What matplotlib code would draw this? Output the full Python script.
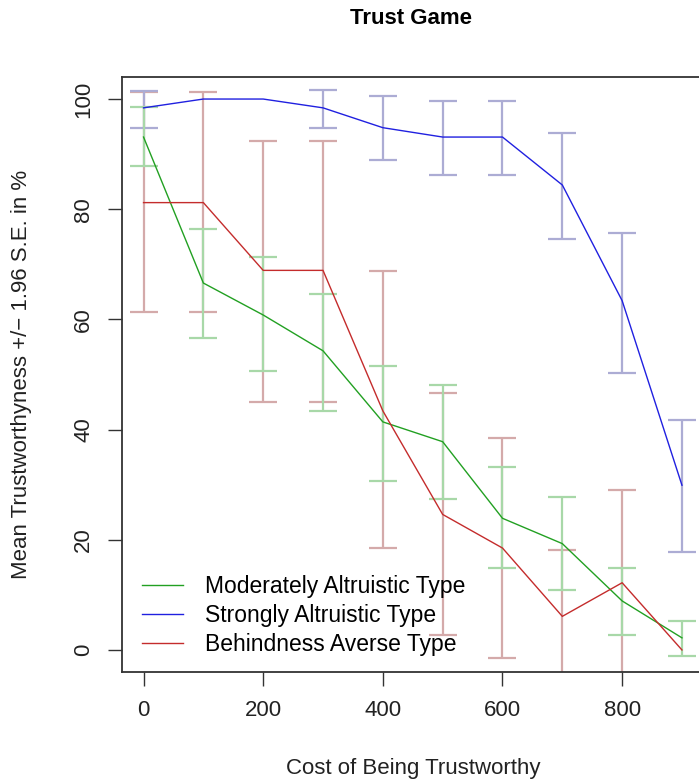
#!/usr/bin/env python3
"""Trust Game: mean trustworthiness by cost, with 1.96 S.E. bars"""

import numpy as np
import matplotlib
matplotlib.use('Agg')
import matplotlib.pyplot as plt

# cost levels
cost = [0, 100, 200, 300, 400, 500, 600, 700, 800, 900]

# Moderately Altruistic Type
mod_mean = [93.1, 66.6, 60.8, 54.3, 41.4, 37.8, 23.9, 19.3, 8.9, 2.2]
mod_lo = [87.9, 56.7, 50.6, 43.4, 30.7, 27.4, 14.9, 10.8, 2.7, -1.1]
mod_hi = [98.6, 76.5, 71.3, 64.6, 51.6, 48.1, 33.2, 27.7, 14.9, 5.2]

# Strongly Altruistic Type (no bar where S.E. is zero)
str_mean = [98.4, 100.0, 100.0, 98.4, 94.8, 93.1, 93.1, 84.4, 63.4, 29.9]
str_lo = [94.8, np.nan, np.nan, 94.8, 89.0, 86.2, 86.2, 74.6, 50.2, 17.7]
str_hi = [101.5, np.nan, np.nan, 101.7, 100.6, 99.7, 99.7, 93.9, 75.7, 41.7]

# Behindness Averse Type
beh_mean = [81.2, 81.2, 68.9, 68.9, 43.4, 24.6, 18.5, 6.1, 12.2, 0.0]
beh_lo = [61.3, 61.3, 45.0, 45.0, 18.5, 2.7, -1.4, -6.0, -4.6, np.nan]
beh_hi = [101.2, 101.2, 92.3, 92.3, 68.8, 46.7, 38.4, 18.2, 29.0, np.nan]

labels = ['Moderately Altruistic Type', 'Strongly Altruistic Type', 'Behindness Averse Type']

plt.rcParams['font.family'] = ['Liberation Sans', 'DejaVu Sans']

W, H = 699, 782
fig = plt.figure(figsize=(W / 100, H / 100), dpi=100)
ax = fig.add_axes([122 / W, (H - 672) / H, (703.5 - 122) / W, (672 - 77) / H])

series = [
    (mod_mean, mod_lo, mod_hi, '#22a022', '#a8d8a8'),
    (str_mean, str_lo, str_hi, '#2020e0', '#acacd4'),
    (beh_mean, beh_lo, beh_hi, '#c42c2c', '#d4aaaa'),
]

x = np.array(cost, dtype=float)
# error bars first (pale), lines on top
for mean, lo, hi, lc, ec in series[::-1]:
    m = np.array(mean, dtype=float)
    lo = np.array(lo, dtype=float)
    hi = np.array(hi, dtype=float)
    ok = ~np.isnan(lo)
    ax.errorbar(x[ok], m[ok], yerr=[m[ok] - lo[ok], hi[ok] - m[ok]],
                fmt='none', ecolor=ec, elinewidth=1.6, capsize=10, capthick=1.6)

handles = []
for (mean, lo, hi, lc, ec), lab in zip(series, labels):
    h, = ax.plot(x, mean, color=lc, linewidth=1.0, label=lab)
    handles.append(h)

ax.set_xlim(-36, 936)
ax.set_ylim(-4, 104)
ax.set_xticks([0, 200, 400, 600, 800])
ax.set_yticks([0, 20, 40, 60, 80, 100])
ax.tick_params(axis='both', direction='out', length=10, width=1.0, color='#333333',
               labelsize=16, labelcolor='#222222')
ax.tick_params(axis='x', pad=10)
ax.tick_params(axis='y', pad=10)
for lab in ax.get_yticklabels():
    lab.set_rotation(90)
    lab.set_va('center')
for sp in ax.spines.values():
    sp.set_color('#333333')
    sp.set_linewidth(1.3)

ax.set_xlabel('Cost of Being Trustworthy', fontsize=16, color='#222222', labelpad=27)
ax.set_ylabel('Mean Trustworthyness +/\u2212 1.96 S.E. in %', fontsize=16,
              color='#222222', labelpad=30)
fig.text(411 / W, 1 - 18 / H, 'Trust Game', ha='center', va='center',
         fontsize=16, fontweight='bold')

ax.legend(handles=handles, loc='lower left', frameon=False, fontsize=16.5,
          handlelength=1.8, handletextpad=0.95, labelspacing=0.26,
          borderaxespad=0.3, bbox_to_anchor=(0.006, 0.0))

plt.savefig('out.png', dpi=100)
plt.close()
